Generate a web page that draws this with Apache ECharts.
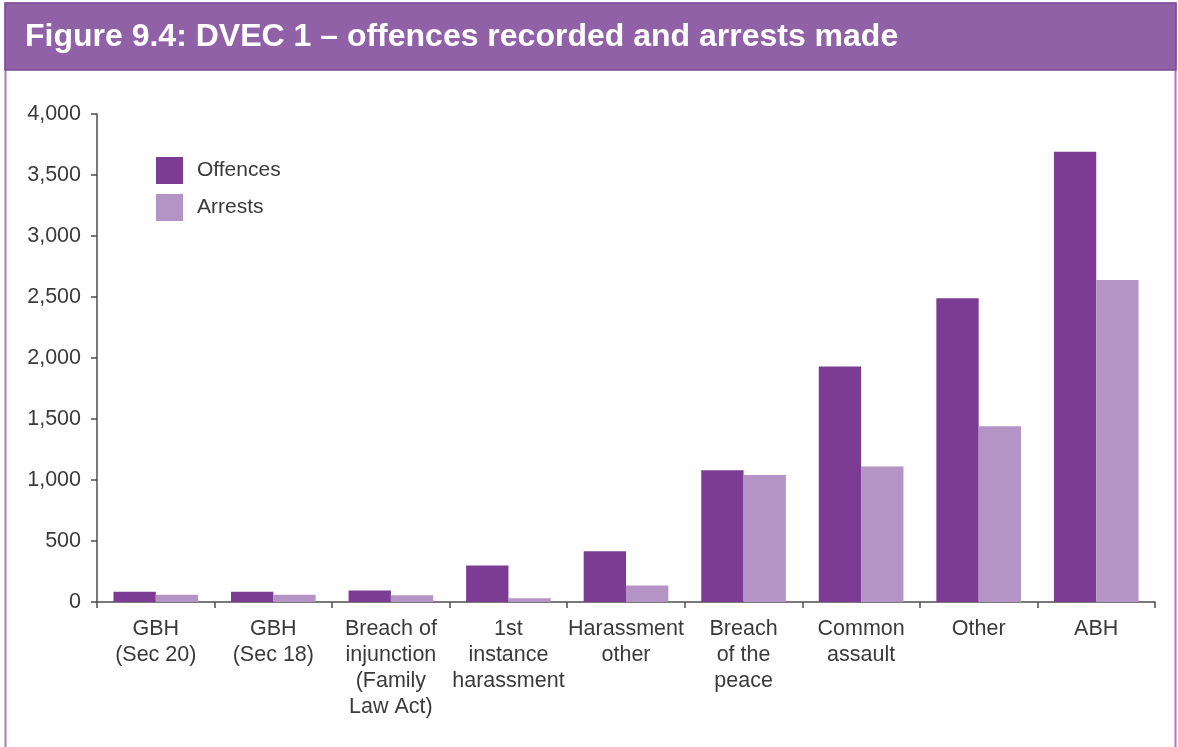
<!DOCTYPE html>
<html>
<head>
<meta charset="utf-8">
<title>DVEC 1 – offences recorded and arrests made</title>
<script src="https://cdn.jsdelivr.net/npm/echarts@6/dist/echarts.min.js"></script>
<style>
  html, body { margin: 0; padding: 0; background: #ffffff; }
  #chart { width: 1178px; height: 747px; }
</style>
</head>
<body>
<div id="chart"></div>
<script>
// Offence categories (line breaks as printed under the axis)
const categories = [
  'GBH\n(Sec 20)',
  'GBH\n(Sec 18)',
  'Breach of\ninjunction\n(Family\nLaw Act)',
  '1st\ninstance\nharassment',
  'Harassment\nother',
  'Breach\nof the\npeace',
  'Common\nassault',
  'Other',
  'ABH'
];

// Offences recorded per category
const offences = [85, 85, 95, 300, 415, 1080, 1930, 2490, 3690];

// Arrests made per category
const arrests = [60, 60, 55, 30, 135, 1040, 1110, 1440, 2640];

// Value axis range
const yMin = 0;
const yMax = 4000;
const yStep = 500;

const titleText = 'Figure 9.4: DVEC 1 – offences recorded and arrests made';

const FONT = '"Liberation Sans", Arial, Helvetica, sans-serif';
const TEXT = '#3a3a3a';
const AXIS = '#4d4d4d';

const chart = echarts.init(document.getElementById('chart'), null, { renderer: 'canvas' });

chart.setOption({
  backgroundColor: '#ffffff',
  animation: false,
  graphic: [
    // outer frame
    {
      type: 'rect',
      z: 0,
      shape: { x: 5.5, y: 3.5, width: 1170, height: 760 },
      style: { fill: 'none', stroke: '#a57cbf', lineWidth: 2 }
    },
    // title band
    {
      type: 'rect',
      z: 1,
      shape: { x: 5, y: 3, width: 1171, height: 67 },
      style: { fill: '#9161a8', stroke: '#7e4a98', lineWidth: 1.5 }
    }
  ],
  title: {
    text: titleText,
    left: 20,
    top: 16,
    z: 10,
    textStyle: {
      color: '#ffffff',
      fontFamily: FONT,
      fontWeight: 'bold',
      fontSize: 32
    }
  },
  legend: {
    orient: 'vertical',
    left: 151,
    top: 152,
    itemWidth: 27,
    itemHeight: 27,
    itemGap: 10,
    icon: 'rect',
    textStyle: {
      color: TEXT,
      fontFamily: FONT,
      fontSize: 21,
      padding: [2, 0, 0, 9]
    },
    data: ['Offences', 'Arrests']
  },
  grid: {
    left: 97,
    right: 23,
    top: 114,
    bottom: 145,
    containLabel: false
  },
  xAxis: {
    type: 'category',
    data: categories,
    axisLine: { lineStyle: { color: AXIS, width: 1.5 } },
    axisTick: { show: true, length: 6, inside: false, lineStyle: { color: AXIS, width: 1.5 } },
    axisLabel: {
      interval: 0,
      margin: 14,
      color: TEXT,
      fontFamily: FONT,
      fontSize: 21.5,
      lineHeight: 26,
      align: 'center'
    },
    splitLine: { show: false }
  },
  yAxis: {
    type: 'value',
    min: yMin,
    max: yMax,
    interval: yStep,
    axisLine: { show: true, lineStyle: { color: AXIS, width: 1.5 } },
    axisTick: { show: true, length: 6, lineStyle: { color: AXIS, width: 1.5 } },
    axisLabel: {
      margin: 16,
      color: TEXT,
      fontFamily: FONT,
      fontSize: 21.5,
      formatter: v => v.toLocaleString('en-GB')
    },
    splitLine: { show: false }
  },
  series: [
    {
      name: 'Offences',
      type: 'bar',
      data: offences,
      barGap: '0%',
      barCategoryGap: '28%',
      itemStyle: { color: '#7d3c94' }
    },
    {
      name: 'Arrests',
      type: 'bar',
      data: arrests,
      barGap: '0%',
      barCategoryGap: '28%',
      itemStyle: { color: '#b394c4' }
    }
  ]
});
</script>
</body>
</html>
